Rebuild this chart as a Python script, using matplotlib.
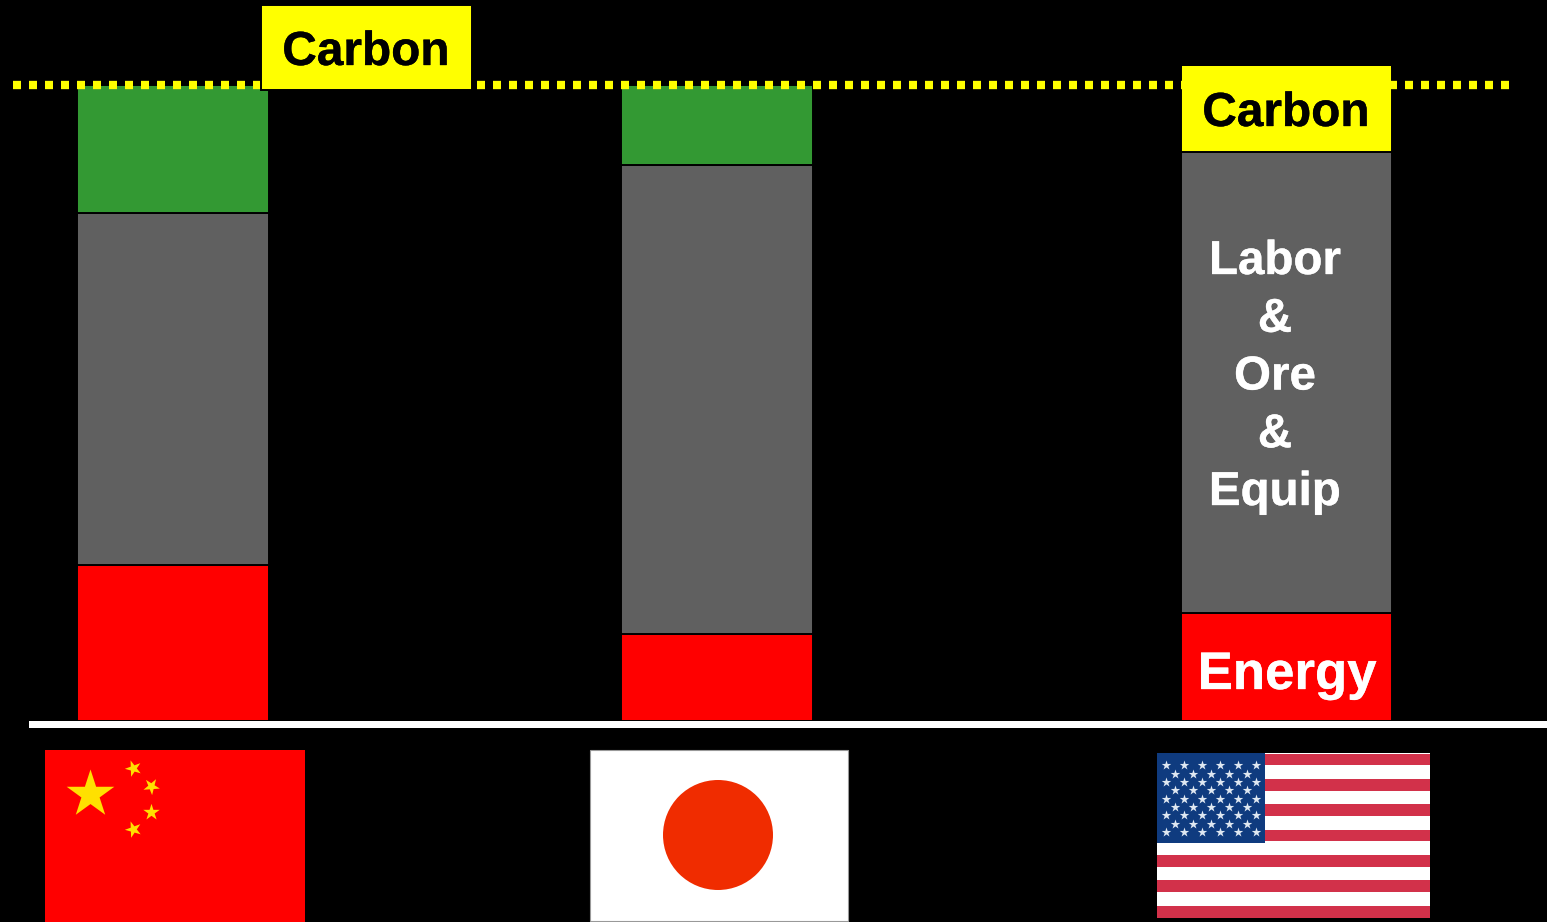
import matplotlib
matplotlib.use("Agg")
import matplotlib.pyplot as plt
import matplotlib.patheffects as pe
from matplotlib.markers import MarkerStyle
from matplotlib.patches import Rectangle, Circle
from matplotlib.transforms import Affine2D

plt.rcParams['font.family'] = ['Liberation Sans', 'DejaVu Sans']

countries = ["China", "Japan", "USA"]
energy = [156, 87, 108]
labor_ore_equip = [352, 469, 461]
carbon = [128, 80, 85]
carbon_colors = ["#339933", "#339933", "#ffff00"]
reference_level = 636
labor_lines = ["Labor", "&", "Ore", "&", "Equip"]

W, H = 1547, 922
BASE = 721
bar_x = [173, 717, 1286.5]
bar_w = [192, 192, 211]

fig = plt.figure(figsize=(W / 100, H / 100), dpi=100, facecolor="black")
ax = fig.add_axes([0, 0, 1, 1])
ax.set_xlim(0, W)
ax.set_ylim(BASE - H, BASE)
ax.axis("off")


def py(p):
    return BASE - p


edge = dict(edgecolor="black", linewidth=1.4)
bottom2 = [a + b for a, b in zip(energy, labor_ore_equip)]
ax.bar(bar_x, energy, width=bar_w, color="#ff0000", zorder=2, **edge)
ax.bar(bar_x, labor_ore_equip, width=bar_w, bottom=energy, color="#606060", zorder=2, **edge)
ax.bar(bar_x, carbon, width=bar_w, bottom=bottom2, color=carbon_colors, zorder=2, **edge)

# dotted reference line
ax.plot([13, 1510], [reference_level] * 2, color="#ffff00", lw=6.0,
        dashes=(0.96, 0.96), dash_capstyle="butt", zorder=3)

# USA carbon box above the dotted line
ax.add_patch(Rectangle((1182, py(150.5)), 209, 84.5, fc="#ffff00", ec="none", zorder=4))
# China carbon label box
ax.add_patch(Rectangle((261, py(90)), 211, 85, fc="#ffff00", ec="black", lw=1.4, zorder=4))

# baseline
ax.add_patch(Rectangle((29, py(728)), W - 29, 7, fc="white", ec="none", zorder=5))

# text
bold = dict(fontweight="bold", ha="center", va="baseline", zorder=6)


def label(x, p, s, color, size):
    t = ax.text(x, py(p), s, color=color, fontsize=size, **bold)
    t.set_path_effects([pe.withStroke(linewidth=0.25, foreground=color)])


label(366, 65, "Carbon", "black", 34.4)
label(1286, 126, "Carbon", "black", 34.4)
label(1287, 689, "Energy", "white", 38)
for i, line in enumerate(labor_lines):
    label(1275, 274 + 57.75 * i, line, "white", 34.2)


def star(rot=0):
    m = MarkerStyle("*")
    m._transform = Affine2D().rotate_deg(rot) + m.get_transform()
    return m


# China flag
ax.add_patch(Rectangle((45, py(922)), 260, 172, fc="#ff0000", ec="none", zorder=2))
ax.scatter([90], [py(794)], s=1300, marker="*", color="#ffe000", linewidths=0, zorder=3)
for sx, sy, r in [(133, 768, 20), (151, 786, 40), (151, 812, 0), (133, 829, 20)]:
    ax.scatter([sx], [py(sy)], s=155, marker=star(r), color="#ffe000", linewidths=0, zorder=3)

# Japan flag
ax.add_patch(Rectangle((590, py(921)), 258, 171, fc="white", ec="#999999", lw=0.8, zorder=2))
ax.add_patch(Circle((718, py(835)), 55, fc="#f02c00", ec="none", zorder=3))

# USA flag
fx, fy, fw, fh = 1157, 753, 273, 165
ax.add_patch(Rectangle((fx, py(fy + fh)), fw, fh, fc="white", ec="none", zorder=2))
sh = fh / 13
for i in range(0, 13, 2):
    ax.add_patch(Rectangle((fx, py(fy + (i + 1) * sh) + 0.5), fw, sh - 1,
                           fc="#d2314a", ec="none", zorder=3))
ax.add_patch(Rectangle((fx, py(843)), 108, 90, fc="#0f3b7f", ec="none", zorder=4))
row_y = [765, 773.7, 782, 790.3, 799, 807.3, 815.3, 823.7, 832.3]
odd_x = [1166, 1184, 1202, 1220, 1238, 1256]
even_x = [1175, 1193, 1211, 1229, 1247]
for i, y in enumerate(row_y):
    xs = odd_x if i % 2 == 0 else even_x
    ax.scatter(xs, [py(y)] * len(xs), s=52, marker="*", color="#dfe8f2", linewidths=0, zorder=5)

fig.savefig("out.png", dpi=100, facecolor="black")
